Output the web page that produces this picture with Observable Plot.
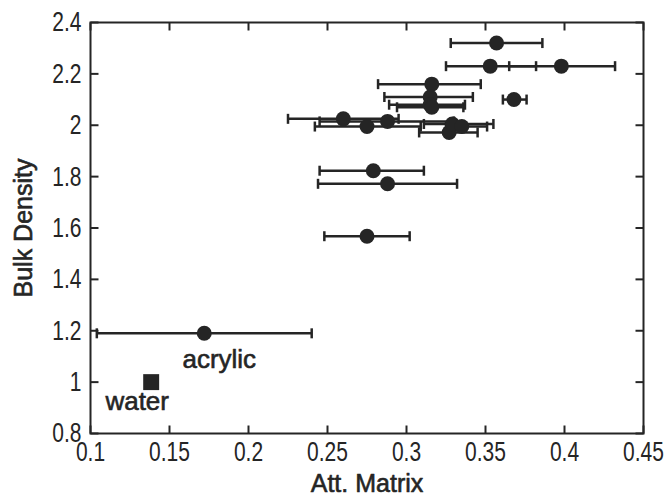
<!DOCTYPE html>
<html>
<head>
<meta charset="utf-8">
<script src="https://cdn.jsdelivr.net/npm/d3@7"></script>
<script src="https://cdn.jsdelivr.net/npm/@observablehq/plot@0.6"></script>
<style>
  html, body { margin: 0; padding: 0; background: #fff; }
  #chart { width: 665px; height: 498px; }
</style>
</head>
<body>
<div id="chart"></div>
<script>
// ---- data ----
const attMatrix   = [0.357, 0.353, 0.398, 0.368, 0.316, 0.315, 0.315, 0.316, 0.260, 0.275, 0.288, 0.327, 0.329, 0.335, 0.279, 0.288, 0.275, 0.172];
const bulkDensity = [2.32, 2.23, 2.23, 2.10, 2.16, 2.11, 2.08, 2.07, 2.025, 1.995, 2.015, 1.972, 2.005, 1.995, 1.823, 1.772, 1.568, 1.19];
const errLow      = [0.328, 0.325, 0.365, 0.361, 0.282, 0.286, 0.289, 0.294, 0.225, 0.242, 0.245, 0.308, 0.311, 0.325, 0.245, 0.244, 0.248, 0.104];
const errHigh     = [0.386, 0.382, 0.432, 0.376, 0.347, 0.342, 0.337, 0.336, 0.295, 0.309, 0.330, 0.345, 0.355, 0.351, 0.311, 0.332, 0.302, 0.240];

const waterX = [0.1384];
const waterY = [1.0];

const xTicks = [0.1, 0.15, 0.2, 0.25, 0.3, 0.35, 0.4, 0.45];
const yTicks = [0.8, 1.0, 1.2, 1.4, 1.6, 1.8, 2.0, 2.2, 2.4];
const xDomain = [0.1, 0.45];
const yDomain = [0.8, 2.4];

const xTitle = "Att. Matrix";
const yTitle = "Bulk Density";
const labelAcrylic = "acrylic";
const labelWater = "water";

// ---- build table ----
const points = attMatrix.map((x, i) => ({x, y: bulkDensity[i], lo: errLow[i], hi: errHigh[i]}));
const water = waterX.map((x, i) => ({x, y: waterY[i]}));

const ink = "#252525";
const font = "'Liberation Sans', Arial, Helvetica, sans-serif";
const fmt = d => String(+d.toFixed(2));
const heavy = {stroke: ink, strokeWidth: 0.6};

// custom line symbols for caps and inward ticks
const capSym  = {draw(c) { c.moveTo(0, -5); c.lineTo(0, 5); }};
const tickUp  = {draw(c) { c.moveTo(0, 0); c.lineTo(0, -8); }};
const tickDn  = {draw(c) { c.moveTo(0, 0); c.lineTo(0, 8); }};
const tickRt  = {draw(c) { c.moveTo(0, 0); c.lineTo(8, 0); }};
const tickLt  = {draw(c) { c.moveTo(0, 0); c.lineTo(-8, 0); }};

const chart = Plot.plot({
  width: 665,
  height: 498,
  marginLeft: 90,
  marginRight: 22,
  marginTop: 22,
  marginBottom: 65,
  style: {background: "#fff", fontFamily: font, color: ink},
  x: {domain: xDomain, axis: null},
  y: {domain: yDomain, axis: null},
  marks: [
    // inward ticks on all four sides
    Plot.dot(xTicks, {x: d => d, y: () => yDomain[0], symbol: tickUp, stroke: ink, strokeWidth: 2}),
    Plot.dot(xTicks, {x: d => d, y: () => yDomain[1], symbol: tickDn, stroke: ink, strokeWidth: 2}),
    Plot.dot(yTicks, {x: () => xDomain[0], y: d => d, symbol: tickRt, stroke: ink, strokeWidth: 2}),
    Plot.dot(yTicks, {x: () => xDomain[1], y: d => d, symbol: tickLt, stroke: ink, strokeWidth: 2}),
    Plot.frame({stroke: ink, strokeWidth: 2}),
    // tick labels
    Plot.axisX(xTicks, {anchor: "bottom", tickSize: 0, tickPadding: 10, tickFormat: fmt, fontSize: 21, fill: ink, ...heavy, label: null}),
    Plot.axisY(yTicks, {anchor: "left", tickSize: 0, tickPadding: 9, tickFormat: fmt, fontSize: 21, fill: ink, ...heavy, label: null}),
    // axis titles
    Plot.text([xTitle], {frameAnchor: "bottom", textAnchor: "middle", lineAnchor: "middle", dy: 50, text: d => d, fontSize: 25, fill: ink, ...heavy}),
    Plot.text([yTitle], {frameAnchor: "left", textAnchor: "middle", lineAnchor: "middle", dx: -67, rotate: -90, text: d => d, fontSize: 25, fill: ink, ...heavy}),
    // error bars
    Plot.ruleY(points, {x1: "lo", x2: "hi", y: "y", stroke: ink, strokeWidth: 2.5}),
    Plot.dot(points, {x: "lo", y: "y", symbol: capSym, stroke: ink, strokeWidth: 2.5}),
    Plot.dot(points, {x: "hi", y: "y", symbol: capSym, stroke: ink, strokeWidth: 2.5}),
    // points
    Plot.dot(points, {x: "x", y: "y", r: 7.5, fill: ink, stroke: "none"}),
    Plot.dot(water, {x: "x", y: "y", symbol: "square", r: 9, fill: ink, stroke: "none"}),
    // annotations
    Plot.text([labelAcrylic], {x: () => attMatrix[attMatrix.length - 1], y: () => bulkDensity[bulkDensity.length - 1], text: d => d, dx: 15, dy: 26, fontSize: 26, fill: ink, ...heavy}),
    Plot.text([labelWater], {x: () => waterX[0], y: () => waterY[0], text: d => d, dx: -14, dy: 20, fontSize: 26, fill: ink, ...heavy})
  ]
});

document.getElementById("chart").appendChild(chart);

// tick digits in the reference are tall and narrow: stretch them vertically
chart.querySelectorAll('g[aria-label="x-axis tick label"] text, g[aria-label="y-axis tick label"] text').forEach(t => {
  const b = t.getBBox();
  const cx = b.x + b.width / 2, cy = b.y + b.height / 2;
  const tr = t.getAttribute("transform") || "";
  t.setAttribute("transform", `${tr} translate(${cx},${cy}) scale(1,1.3) translate(${-cx},${-cy})`);
});
</script>
</body>
</html>
